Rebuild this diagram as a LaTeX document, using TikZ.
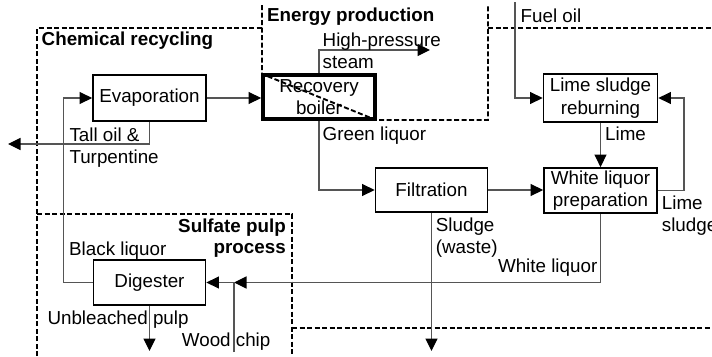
\documentclass[tikz,border=0pt]{standalone}
\usepackage{fontspec}
\setmainfont{Liberation Sans}
\usetikzlibrary{arrows.meta}
\newcommand{\fsz}{\fontsize{18.8}{22.4}\selectfont}
\tikzset{
  box/.style={draw=black,line width=1.8pt,rectangle,inner sep=0pt,align=center,font=\fsz},
  conn/.style={draw={rgb,255:red,85;green,85;blue,85},line width=1.2pt},
  arr/.style={-{Triangle[length=12.5pt,width=12pt,black]}},
  lbl/.style={inner sep=0pt,font=\fsz},
  reg/.style={inner sep=0pt,font=\fsz\bfseries},
  bound/.style={draw=black,line width=1.9pt,dash pattern=on 5pt off 2.5pt}
}
\begin{document}
\begin{tikzpicture}[x=1pt,y=-1pt]
\useasboundingbox (0,0) rectangle (712,356);
\fill[white] (0,0) rectangle (712,356);

% boxes
\node[box,minimum width=113pt,minimum height=46pt] (evap) at (149.5,98) {Evaporation};
\node[box,line width=3.8pt,minimum width=112pt,minimum height=44pt] (rec) at (319,97) {Recovery\\boiler};
\node[box,minimum width=114pt,minimum height=48pt] (lsr) at (600.5,98) {Lime sludge\\reburning};
\node[box,minimum width=113pt,minimum height=45pt] (wlp) at (600.5,190.5) {White liquor\\preparation};
\node[box,minimum width=112pt,minimum height=44pt] (filt) at (431.5,190) {Filtration};
\node[box,minimum width=112pt,minimum height=45pt] (dig) at (149.5,282.5) {Digester};

% boundaries
\draw[bound] (262,5) -- (262,74) -- (376,120) -- (488,120) -- (488,5);
\draw[bound] (37,356) -- (37,28) -- (262,28);
\draw[bound] (488,28) -- (712,28);
\draw[bound] (37,214) -- (292,214) -- (292,356);
\draw[bound] (292,328) -- (712,328);

% free ends
\coordinate (steamend) at (430,50);
\coordinate (sludgeend) at (431.5,351);
\coordinate (wcj) at (234,282.5);
\coordinate (wcstart) at (234,352);
\coordinate (pulpend) at (149.5,351);
\coordinate (tallend) at (8,144);
\coordinate (fuelstart) at (515,2);
\coordinate (bltick) at (136.5,252);

% connectors
\draw[conn,arr] (evap.east) -- (evap.east -| rec.west);
\draw[conn,arr] (rec.north) |- (steamend);
\draw[conn,arr] (rec.south) |- (filt.west);
\draw[conn,arr] (filt.east) -- (filt.east -| wlp.west);
\draw[conn,arr] (filt.south) -- (sludgeend);
\draw[conn,arr] (wlp.south) |- (wcj);
\draw[conn,arr] (wcstart) |- (dig.east);
\draw[conn,arr] (dig.south) -- (pulpend);
\draw[conn,arr] (dig.west) -- ++(-29.5,0) |- (evap.west);
\draw[conn] (bltick) -- (bltick |- dig.north);
\draw[conn,arr] (evap.south) |- (tallend);
\draw[conn,arr] (fuelstart) |- (lsr.west);
\draw[conn,arr] (lsr.south) -- (lsr.south |- wlp.north);
\draw[conn,arr] (wlp.east) -- ++(26,0) |- (lsr.east);

% region labels
\node[reg,anchor=base west] (lchem) at (41.5,45) {Chemical recycling};
\node[reg,anchor=base west] (lener) at (267,21.5) {Energy production};
\node[reg,anchor=base east] (lsulf1) at (286,232.5) {Sulfate pulp};
\node[reg,anchor=base east] (lsulf2) at (286,253) {process};

% flow labels
\node[lbl,anchor=base west] (lhp) at (322.5,46.5) {High-pressure};
\node[lbl,anchor=base west] (lst) at (322.5,68.3) {steam};
\node[lbl,anchor=base west] (lgl) at (322.5,140.5) {Green liquor};
\node[lbl,anchor=base west] (lto) at (69.3,141.5) {Tall oil \&};
\node[lbl,anchor=base west] (ltu) at (69.3,163.5) {Turpentine};
\node[lbl,anchor=base west] (lfo) at (520.5,22.5) {Fuel oil};
\node[lbl,anchor=base west] (llime) at (605,140.5) {Lime};
\node[lbl,anchor=base west] (lls1) at (661.7,209) {Lime};
\node[lbl,anchor=base west] (lls2) at (661.7,231.5) {sludge};
\node[lbl,anchor=base west] (lsl1) at (435.7,231.5) {Sludge};
\node[lbl,anchor=base west] (lsl2) at (435.7,253.5) {(waste)};
\node[lbl,anchor=base east] (lwl) at (597.5,272.5) {White liquor};
\node[lbl,anchor=base west] (lbl) at (69,255) {Black liquor};
\node[lbl,anchor=base west] (lup) at (47.3,324) {Unbleached pulp};
\node[lbl,anchor=base west] (lwc) at (181.7,346) {Wood chip};
\end{tikzpicture}
\end{document}
